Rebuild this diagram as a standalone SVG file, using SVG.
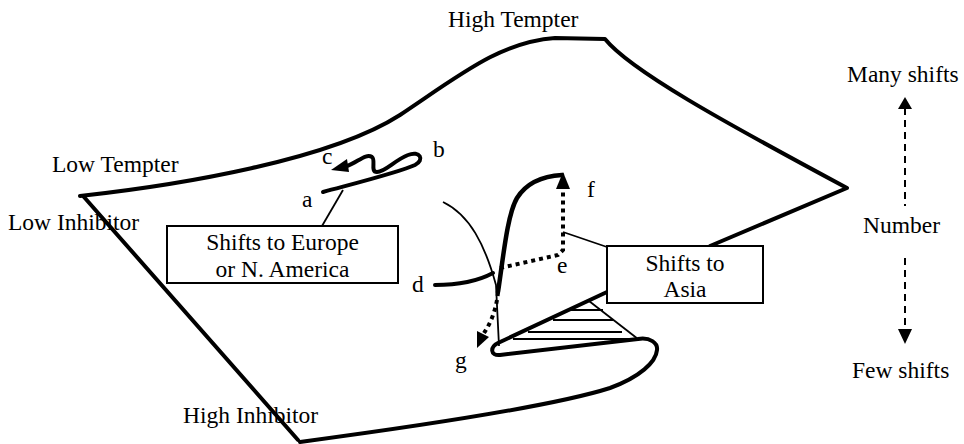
<svg xmlns="http://www.w3.org/2000/svg" width="964" height="444" viewBox="0 0 964 444">
<style>
text{font-family:"Liberation Serif","Times New Roman",serif;font-size:23.5px;fill:#000}
.thick{fill:none;stroke:#000;stroke-width:4;stroke-linecap:round;stroke-linejoin:round}
.thin{fill:none;stroke:#000;stroke-width:1.8}
.box{fill:#fff;stroke:#000;stroke-width:2}
.dot{fill:none;stroke:#000;stroke-width:4;stroke-dasharray:4 4}
.dash{fill:none;stroke:#000;stroke-width:2;stroke-dasharray:7 5}
.mid{text-anchor:middle}
</style>
<rect width="964" height="444" fill="#fff"/>
<g id="surface">
<path class="thick" d="M80,196 C180,185 330,160 400,115 C460,75 500,42 555,38 L605,39 C630,70 720,120 847,188 L710,246"/>
<path class="thick" d="M84,197 L298,440"/>
<path class="thick" d="M607,292 L498,343 C490,347 490,356 500,355 L638,339 C650,337 658,343 657,350 C656,362 640,377 610,388 C560,404 450,422 300,442"/>
<path class="thin" d="M589,301 L638,339"/>
<g class="thin">
<line x1="570" y1="310" x2="603" y2="310"/>
<line x1="553" y1="320" x2="613" y2="320"/>
<line x1="528" y1="332" x2="622" y2="332"/>
<line x1="513" y1="339" x2="638" y2="339"/>
</g>
<path class="thin" d="M443,202 C470,215 485,245 496,285 L499,346"/>
</g>
<g id="connectors">
<path class="thick" d="M323,192 C360,182 400,172 415,165 C425,160 420,150 408,155 C395,160 385,172 377,172 C370,172 376,160 372,157 C366,153 358,162 347,166"/>
<polygon points="331,170 347,159 349,172"/>
<path class="thick" d="M435,285 C460,285 480,280 493,273"/>
<path class="thick" style="stroke-width:4.5" d="M498,292 C503,260 507,215 517,198 C527,182 545,176 562,175"/>
<path class="dot" d="M500,268 L558,255 L563,250 L563,189"/>
<polygon points="563,172 556,189 570,189"/>
<path class="dot" d="M498,292 Q496,315 484,333"/>
<polygon points="477,348 489,337 477,331"/>
<line class="thin" x1="343" y1="190" x2="322" y2="226"/>
<line class="thin" x1="563" y1="232" x2="607" y2="247"/>
<line class="dash" x1="905" y1="108" x2="905" y2="206"/>
<polygon points="905,97 898,109 912,109"/>
<line class="dash" x1="905" y1="258" x2="905" y2="330"/>
<polygon points="905,344 898,329 912,329"/>
</g>
<g id="box-europe">
<rect class="box" x="167" y="226" width="231" height="57"/>
<text class="mid" x="282.5" y="250">Shifts to Europe</text>
<text class="mid" x="282.5" y="277">or N. America</text>
</g>
<g id="box-asia">
<rect class="box" x="607" y="246" width="156" height="57"/>
<text class="mid" x="685" y="271">Shifts to</text>
<text class="mid" x="685" y="297">Asia</text>
</g>
<g id="labels">
<text x="448" y="27">High Tempter</text>
<text x="52" y="172">Low Tempter</text>
<text x="8" y="230">Low Inhibitor</text>
<text x="183" y="423">High Inhibitor</text>
<text x="847" y="82">Many shifts</text>
<text x="863" y="233">Number</text>
<text x="852" y="378">Few shifts</text>
<text x="302" y="207">a</text>
<text x="433" y="157">b</text>
<text x="322" y="164">c</text>
<text x="412" y="292">d</text>
<text x="557" y="273">e</text>
<text x="587" y="197">f</text>
<text x="455" y="368">g</text>
</g>
</svg>
